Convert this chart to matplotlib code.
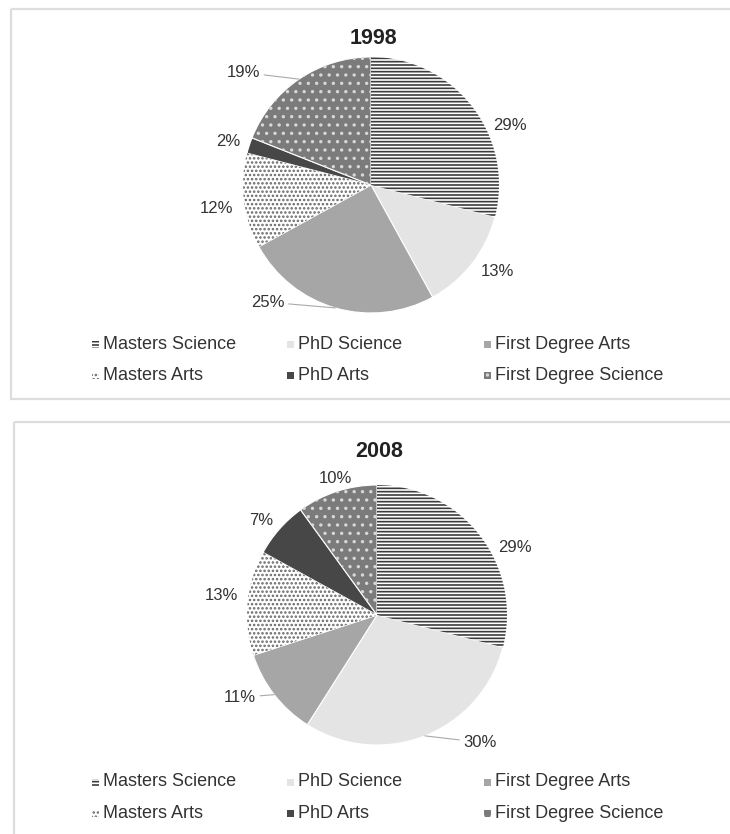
import numpy as np
import matplotlib
matplotlib.use("Agg")
import matplotlib.pyplot as plt
from matplotlib.patches import Rectangle

plt.rcParams['font.family'] = ['Liberation Sans', 'DejaVu Sans']
plt.rcParams['hatch.linewidth'] = 1.2

# ---- data ----
categories = ["Masters Science", "PhD Science", "First Degree Arts",
              "Masters Arts", "PhD Arts", "First Degree Science"]
years = ["1998", "2008"]
values_1998 = [29, 13, 25, 12, 2, 19]
values_2008 = [29, 30, 11, 13, 7, 10]

# ---- styles ----
face_colors = ["#ffffff", "#e4e4e4", "#a6a6a6", "#ffffff", "#474747", "#7b7b7b"]
hatches = ["-----", None, None, "....", None, ".."]
hatch_colors = ["#3c3c3c", None, None, "#666666", None, "#d8d8d8"]

# label placement (angle shift in deg from wedge middle, radial distance)
label_style_1998 = [(-14.5, 1.18), (3.4, 1.20), (-25.2, 1.22), (1.6, 1.22), (1.0, 1.17), (14.4, 1.33)]
label_style_2008 = [(-11.9, 1.18), (17.4, 1.26), (-6.8, 1.23), (-1.9, 1.21), (2.1, 1.15), (-1.3, 1.10)]
leaders_1998 = [2, 5]
leaders_2008 = [1, 2]

W, H = 730, 834
fig = plt.figure(figsize=(W / 100, H / 100), dpi=100)

# background overlay axes in pixel coordinates
bg = fig.add_axes([0, 0, 1, 1], zorder=0)
bg.set_xlim(0, W)
bg.set_ylim(H, 0)
bg.axis('off')
bg.patch.set_alpha(0)

# panel borders
bg.add_patch(Rectangle((11, 9), 740, 390, fill=False, edgecolor="#dddddd", lw=1.6))
bg.add_patch(Rectangle((14, 422), 740, 430, fill=False, edgecolor="#dddddd", lw=1.6))


def draw_pie(values, cx, cy, r, title, title_y, label_style, leaders, legend_rows):
    ax = fig.add_axes([(cx - r) / W, 1 - (cy + r) / H, 2 * r / W, 2 * r / H], zorder=2)
    wedges, _ = ax.pie(values, colors=face_colors, startangle=90, counterclock=False,
                       radius=1, wedgeprops=dict(edgecolor="white", linewidth=0.8))
    # hatch overlay
    over, _ = ax.pie(values, colors=["none"] * len(values), startangle=90, counterclock=False,
                     radius=1, wedgeprops=dict(linewidth=0))
    for w, h, hc in zip(over, hatches, hatch_colors):
        if h:
            w.set_hatch(h)
            w.set_edgecolor(hc)
            w.set_linewidth(0)
        else:
            w.set_visible(False)
    ax.set_xlim(-1, 1)
    ax.set_ylim(-1, 1)
    ax.axis('off')
    for i, (w, v) in enumerate(zip(wedges, values)):
        mid = (w.theta1 + w.theta2) / 2.0
        shift, dist = label_style[i]
        ang = np.deg2rad(mid + shift)
        tx, ty = dist * np.cos(ang), dist * np.sin(ang)
        txt = f"{v}%"
        if i in leaders:
            m = np.deg2rad(mid)
            ax.annotate(txt, xy=(np.cos(m), np.sin(m)), xytext=(tx, ty),
                        ha='center', va='center', fontsize=12, color="#333333",
                        annotation_clip=False,
                        arrowprops=dict(arrowstyle='-', color="#aaaaaa", lw=0.8,
                                        shrinkA=1, shrinkB=0))
        else:
            ax.text(tx, ty, txt, ha='center', va='center', fontsize=12, color="#333333")
    # title
    bg.text(cx + 2, title_y, title, ha='center', va='center', fontsize=15.5,
            fontweight='bold', color="#222222")
    # legend
    col_x = [103, 298, 495]
    order = [[0, 1, 2], [3, 4, 5]]
    for row, ry in enumerate(legend_rows):
        for col, idx in enumerate(order[row]):
            mx = col_x[col] - 11
            bg.add_patch(Rectangle((mx, ry - 3.5), 7, 7, facecolor=face_colors[idx],
                                   edgecolor=hatch_colors[idx] if hatches[idx] else "none",
                                   hatch=hatches[idx], lw=0))
            bg.text(col_x[col], ry, categories[idx], ha='left', va='center',
                    fontsize=13, color="#333333")


draw_pie(values_1998, 371, 185, 128, years[0], 38, label_style_1998, leaders_1998, [344, 375])
draw_pie(values_2008, 377, 615, 130, years[1], 451, label_style_2008, leaders_2008, [782, 813])

fig.savefig("out.png", dpi=100)
